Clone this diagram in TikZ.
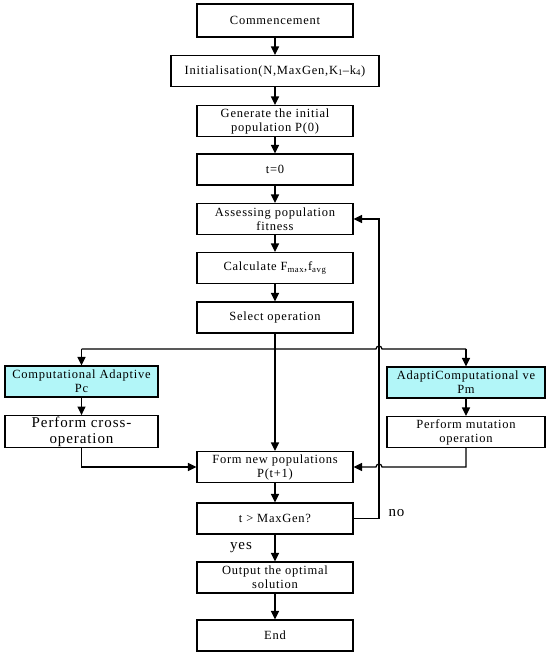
\documentclass[tikz,border=0pt]{standalone}
\usepackage{fontspec}
\setmainfont[LetterSpace=6]{Liberation Serif}
\usepackage{xcolor}
\usepackage{tikz}
\usetikzlibrary{calc,arrows.meta,positioning}
\definecolor{cyanx}{HTML}{B2F6F8}
\tikzset{
  ar/.style={-{Triangle[length=8.5pt,width=8pt]},line width=1.2pt},
  ln/.style={line width=1.2pt},
  box/.style={draw=black,line width=1.1pt,fill=white,align=center,minimum width=156pt,minimum height=31pt,inner sep=1pt,font=\fontsize{12.5}{14}\selectfont},
  adap/.style={box,fill=cyanx,minimum width=156pt}
}
\begin{document}
\begin{tikzpicture}[x=1pt,y=1pt]
\useasboundingbox (0,0) rectangle (550,-656);
% main column
\node[box,minimum height=33pt] (start) at (275,-20.5) {Commencement};
\node[box,minimum width=208pt] (init) at (275,-71) {Initialisation(N,MaxGen,K\textsubscript{1}–k\textsubscript{4})};
\node[box] (gen) at (275,-121) {Generate the initial\\population P(0)};
\node[box] (tzero) at (275,-169.5) {t=0};
\node[box] (assess) at (275,-219) {Assessing population\\fitness};
\node[box] (calc) at (275,-268) {Calculate F\textsubscript{max},f\textsubscript{avg}};
\node[box] (select) at (275,-317.5) {Select operation};
% side branches
\node[adap,minimum width=153pt] (pc) at (81.5,-381.5) {Computational Adaptive\\Pc};
\node[box,minimum width=153pt,font=\fontsize{15}{16}\selectfont] (cross) at (81.5,-431.5) {Perform cross-\\operation};
\node[adap,minimum width=158pt] (pm) at (466,-382.5) {AdaptiComputational ve\\Pm};
\node[box,minimum width=158pt] (mut) at (466,-432) {Perform mutation\\operation};
% lower part
\node[box] (form) at (275,-467) {Form new populations\\P(t+1)};
\node[box] (check) at (275,-518.5) {t > MaxGen?};
\node[box] (out) at (275,-577.5) {Output the optimal\\solution};
\node[box] (stop) at (275,-635.5) {End};
\coordinate (sl) at (pc.north |- 0,-349);
\coordinate (sr) at (pm.north |- 0,-349);
\coordinate (fb) at (379,-518.5);

\draw[ar] (start) -- (init);
\draw[ar] (init) -- (gen);
\draw[ar] (gen) -- (tzero);
\draw[ar] (tzero) -- (assess);
\draw[ar] (assess) -- (calc);
\draw[ar] (calc) -- (select);
\draw[ar] (select) -- (form);
\draw[ln] (sl) -- (376,-349) arc(180:0:3) -- (sr);
\draw[ar] (sl) -- (pc.north);
\draw[ar] (sr) -- (pm.north);
\draw[ar] (pc) -- (cross);
\draw[ar] (pm) -- (mut);
\draw[ar] (cross.south) |- (form.west);
\draw[ar] (mut.south) -- (mut.south |- form.east) -- (382,-467) arc(0:180:3) -- (form.east);
\draw[ar] (form) -- (check);
\draw[ar] (check) -- (out);
\draw[ar] (out) -- (stop);
\draw[ar] (check.east) -- (fb) -- (fb |- assess.east) -- (assess.east);
\node[font=\fontsize{15}{16}\selectfont,anchor=west] (no) at (385,-513) {no};
\node[font=\fontsize{15}{16}\selectfont] (yes) at (241,-548) {yes};
\end{tikzpicture}
\end{document}
